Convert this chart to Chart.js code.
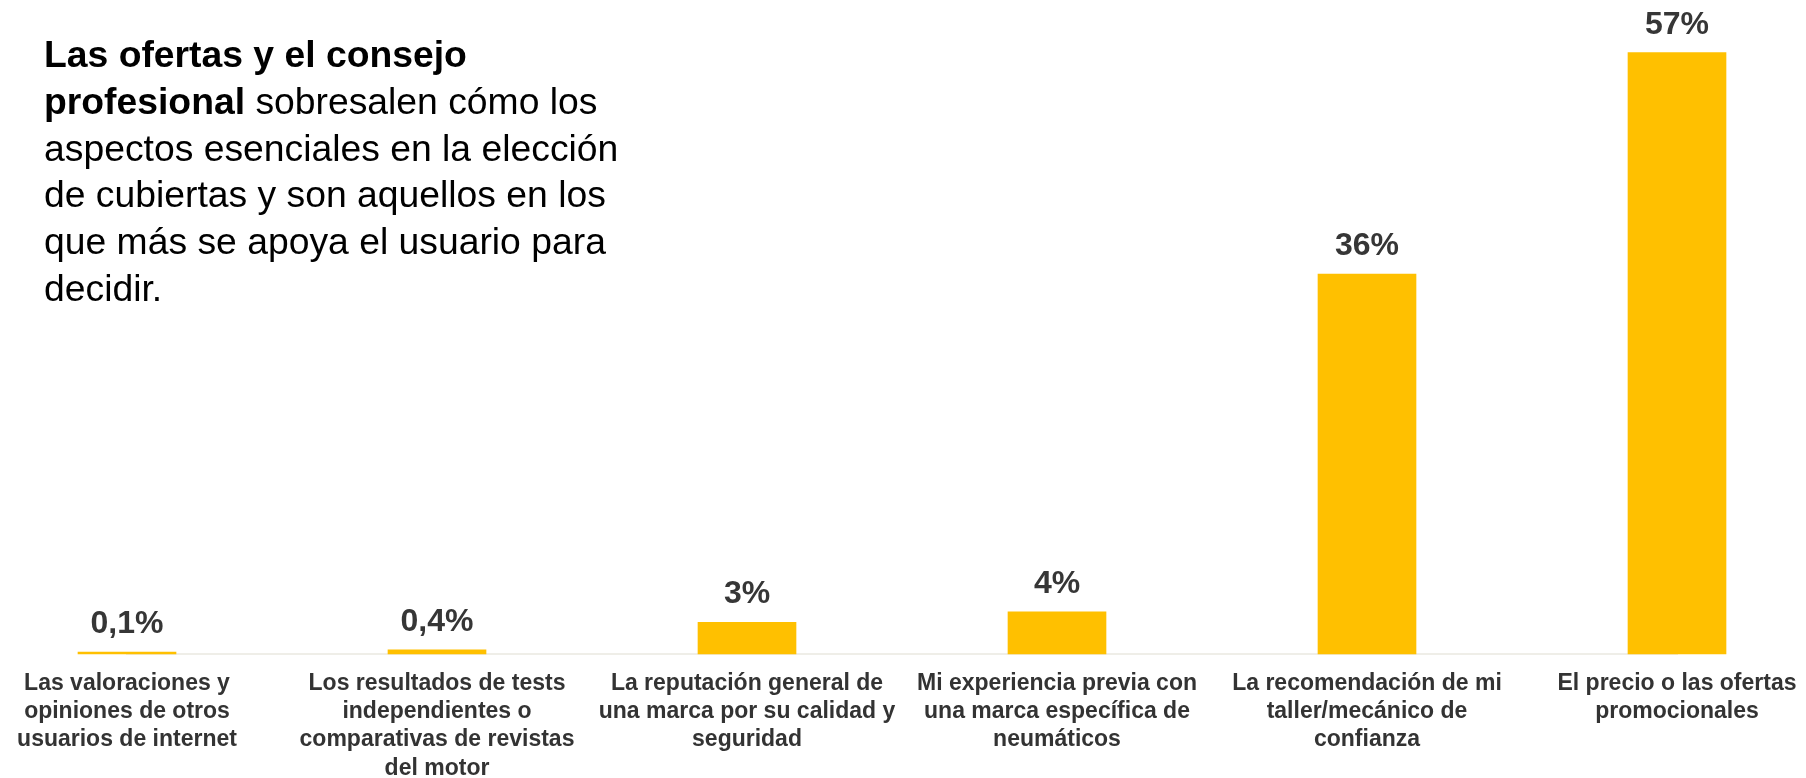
<!DOCTYPE html>
<html lang="es">
<head>
<meta charset="utf-8">
<title>Aspectos en la elección de cubiertas</title>
<script src="https://cdn.jsdelivr.net/npm/chart.js@4.4.1/dist/chart.umd.min.js"></script>
<style>
  html, body { margin:0; padding:0; background:#fff; }
  #wrap { position:relative; width:1806px; height:778px; }
  #chart { position:absolute; left:0; top:0; }
  #headline {
    position:absolute; left:44px; top:31px;
    font-family:'Liberation Sans', Arial, sans-serif;
    font-size:37.3px; line-height:46.8px; color:#000;
    white-space:nowrap;
  }
  #headline b { font-weight:bold; }
</style>
</head>
<body>
<div id="wrap">
  <canvas id="chart" width="1806" height="778"></canvas>
  <div id="headline">
    <b>Las ofertas y el consejo</b><br>
    <b>profesional</b> sobresalen cómo los<br>
    aspectos esenciales en la elección<br>
    de cubiertas y son aquellos en los<br>
    que más se apoya el usuario para<br>
    decidir.
  </div>
</div>
<script>
/* Factores que más pesan al elegir cubiertas (% de usuarios) */

const categories = [
  ['Las valoraciones y', 'opiniones de otros', 'usuarios de internet'],
  ['Los resultados de tests', 'independientes o', 'comparativas de revistas', 'del motor'],
  ['La reputación general de', 'una marca por su calidad y', 'seguridad'],
  ['Mi experiencia previa con', 'una marca específica de', 'neumáticos'],
  ['La recomendación de mi', 'taller/mecánico de', 'confianza'],
  ['El precio o las ofertas', 'promocionales']
];
const shares = [0.1, 0.4, 3, 4, 36, 57];
const yTicks = [0, 60];

const FONT = "'Liberation Sans', Arial, sans-serif";
const fmtPct = v => String(v).replace('.', ',') + '%';

// value labels over each bar
const barLabels = {
  id:'barLabels',
  afterDatasetsDraw(chart){
    const ctx = chart.ctx;
    const meta = chart.getDatasetMeta(0);
    ctx.save();
    ctx.fillStyle = '#363636';
    ctx.font = 'bold 32px ' + FONT;
    ctx.textAlign = 'center';
    ctx.textBaseline = 'alphabetic';
    meta.data.forEach((bar, i) => {
      ctx.fillText(fmtPct(shares[i]), bar.x, bar.y - 19);
    });
    ctx.restore();
  }
};

new Chart(document.getElementById('chart'), {
  type:'bar',
  data:{
    labels:categories,
    datasets:[{
      data:shares,
      backgroundColor:'#FFC000',
      borderWidth:0,
      barThickness:98,
      minBarLength:2,
      clip:false
    }]
  },
  options:{
    responsive:false,
    animation:false,
    layout:{ padding:{ top:21, left:127, right:129, bottom:0 } },
    plugins:{ legend:{display:false}, tooltip:{enabled:false} },
    scales:{
      x:{
        offset:false,
        grid:{ display:false, drawTicks:false },
        border:{ display:true, color:'#efeee8', width:2 },
        ticks:{
          color:'#333333',
          font:{ family:FONT, size:23, weight:'bold', lineHeight:1.22 },
          padding:16, autoSkip:false, maxRotation:0, minRotation:0
        },
        afterFit(scale){ scale.height = 124; scale.paddingLeft = 0; scale.paddingRight = 0; }
      },
      y:{
        display:false,
        min:yTicks[0], max:yTicks[1]
      }
    }
  },
  plugins:[barLabels]
});
</script>
</body>
</html>
